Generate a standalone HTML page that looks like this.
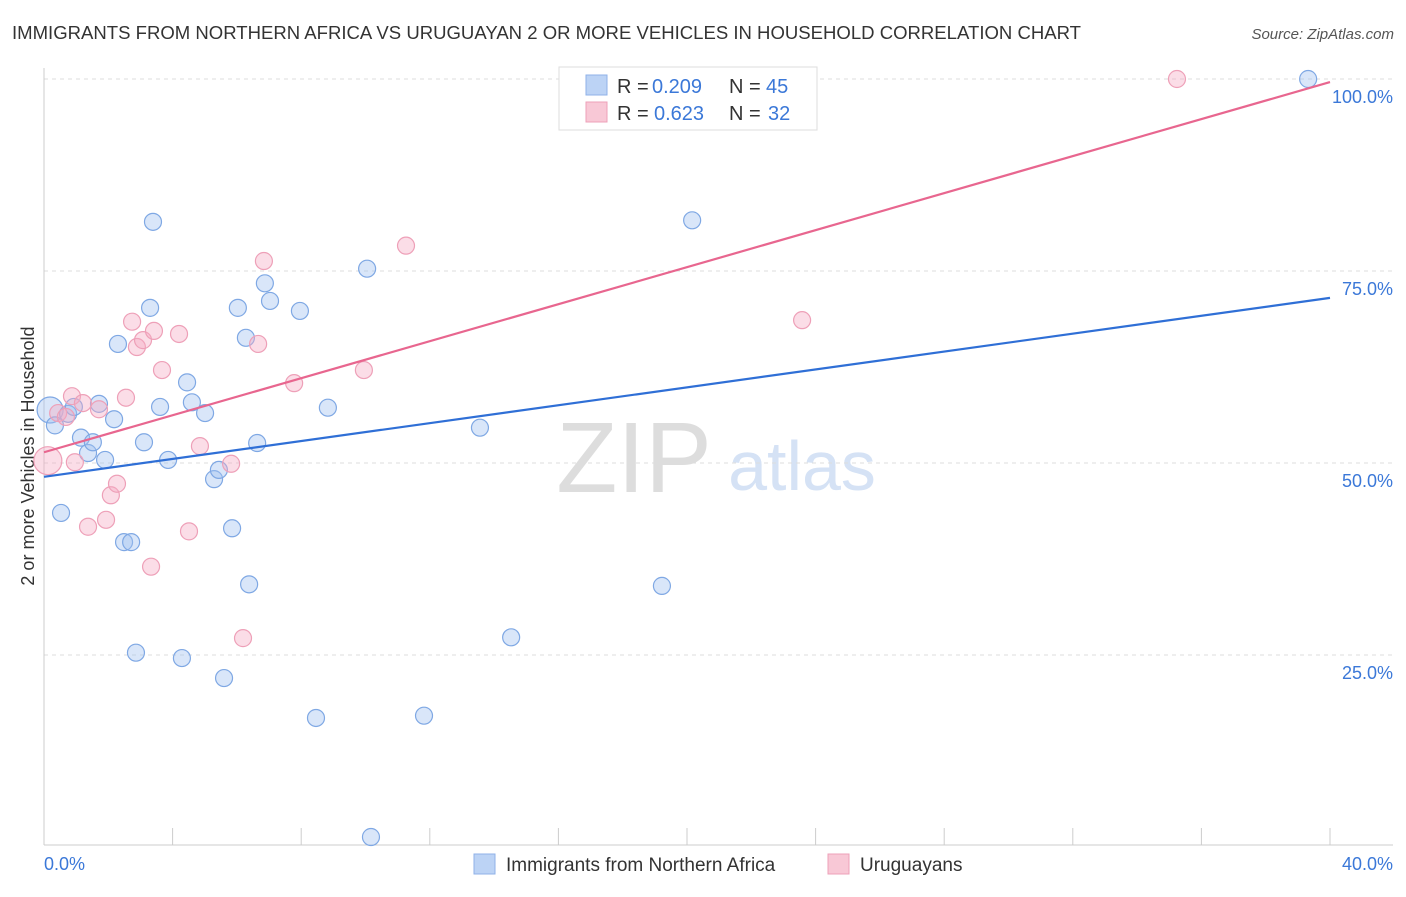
<!DOCTYPE html>
<html><head><meta charset="utf-8"><style>
body{margin:0;background:#fff;font-family:"Liberation Sans",sans-serif;}
svg text{font-family:"Liberation Sans",sans-serif;}
</style></head><body>
<svg id="chart" width="1406" height="892">
<text x="12" y="39" font-size="18" fill="#333" textLength="1069" lengthAdjust="spacingAndGlyphs">IMMIGRANTS FROM NORTHERN AFRICA VS URUGUAYAN 2 OR MORE VEHICLES IN HOUSEHOLD CORRELATION CHART</text>
<text x="1394" y="39" font-size="15" fill="#555" text-anchor="end" font-style="italic">Source: ZipAtlas.com</text>
<text x="634" y="492" font-size="100" fill="#ddd" font-family="Liberation Serif" text-anchor="middle">ZIP</text>
<text x="802" y="490" font-size="70" fill="#d5e2f5" text-anchor="middle">atlas</text>
<text transform="translate(34,456) rotate(-90)" font-size="18" fill="#333" text-anchor="middle">2 or more Vehicles in Household</text>
<g id="grid"></g><g id="marks"></g>
<g>
<rect x="559" y="67" width="258" height="63" fill="#fff" stroke="#ddd"/>
<rect x="586" y="75" width="21" height="20" fill="#bcd3f5" stroke="#8fb2e8"/>
<rect x="586" y="102" width="21" height="20" fill="#f8c8d6" stroke="#eea0b8"/>
<text x="617" y="93" font-size="20" fill="#333">R =</text>
<text x="652" y="93" font-size="20" fill="#3b78d8">0.209</text>
<text x="729" y="93" font-size="20" fill="#333">N =</text>
<text x="766" y="93" font-size="20" fill="#3b78d8">45</text>
<text x="617" y="120" font-size="20" fill="#333">R =</text>
<text x="654" y="120" font-size="20" fill="#3b78d8">0.623</text>
<text x="729" y="120" font-size="20" fill="#333">N =</text>
<text x="768" y="120" font-size="20" fill="#3b78d8">32</text>
</g>
<g>
<rect x="474" y="854" width="21" height="20" fill="#bcd3f5" stroke="#8fb2e8"/>
<text x="506" y="871" font-size="19" fill="#333">Immigrants from Northern Africa</text>
<rect x="828" y="854" width="21" height="20" fill="#f8c8d6" stroke="#eea0b8"/>
<text x="860" y="871" font-size="19" fill="#333">Uruguayans</text>
</g>
</svg>
<script>
const blueX=[0.19,0.34,0.53,0.75,0.93,1.15,1.37,1.52,1.71,1.90,2.18,2.30,2.49,2.71,2.86,3.11,3.30,3.39,3.61,3.86,4.29,4.45,4.60,5.01,5.29,5.44,5.60,5.85,6.03,6.28,6.38,6.63,6.87,7.03,7.96,8.46,8.83,10.05,10.17,11.82,13.56,14.53,19.22,20.16,39.32];
const blueY=[56.9,54.9,43.5,56.4,57.3,53.3,51.3,52.7,57.7,50.4,55.7,65.5,39.7,39.7,25.3,52.7,70.2,81.4,57.3,50.4,24.6,60.5,57.9,56.5,47.9,49.1,22.0,41.5,70.2,66.3,34.2,52.6,73.4,71.1,69.8,16.8,57.2,75.3,1.3,17.1,54.6,27.3,34.0,81.6,100];
const pinkX=[0.12,0.44,0.68,0.87,0.96,1.21,1.37,1.71,1.93,2.08,2.27,2.55,2.74,2.89,3.08,3.33,3.42,3.67,4.20,4.51,4.85,5.82,6.19,6.66,6.84,7.78,9.95,11.26,23.58,35.24];
const pinkY=[50.3,56.5,56.0,58.7,50.1,57.8,41.7,57.0,42.6,45.8,47.3,58.5,68.4,65.1,66.0,36.5,67.2,62.1,66.8,41.1,52.2,49.9,27.2,65.5,76.3,60.4,62.1,78.3,68.6,100];
const blueTrend=[48.2,71.5];
const pinkTrend=[51.4,99.6];
const yTicks=[25,50,75,100];
const xTicks=[0,4,8,12,16,20,24,28,32,36,40];
const NS='http://www.w3.org/2000/svg';
const sx=v=>44+v*32.15, sy=v=>847-v*7.68;
function mk(tag,attrs,parent){const e=document.createElementNS(NS,tag);for(const k in attrs)e.setAttribute(k,attrs[k]);parent.appendChild(e);return e;}
const grid=document.getElementById('grid'),marks=document.getElementById('marks');
yTicks.forEach(t=>{
 const l=mk('line',{x1:44,x2:1393,y1:sy(t),y2:sy(t),stroke:'#ddd','stroke-dasharray':'4,4'},grid);
 
 
 const tx=mk('text',{x:1393,y:sy(t)+24,'font-size':18,fill:'#3b78d8','text-anchor':'end'},grid);
 tx.textContent=t.toFixed(1)+'%';
 
 
});
xTicks.forEach(t=>{
 const l=mk('line',{x1:sx(t),x2:sx(t),y1:828,y2:845,stroke:'#ccc'},grid);
 
 
});
mk('line',{x1:44,x2:44,y1:68,y2:845,stroke:'#ccc'},grid);
mk('line',{x1:44,x2:1393,y1:845,y2:845,stroke:'#ccc'},grid);
[[0,44,'start'],[40,1393,'end']].forEach(([v,x,a])=>{const tx=mk('text',{x:x,y:870,'font-size':18,fill:'#3b78d8','text-anchor':a},grid);tx.textContent=v.toFixed(1)+'%';
 
 });
function pts(X,Y,fill,stroke,name){X.forEach((x,i)=>{const r=(i===0)?(name==='blue-point'?13:14):8.5;
 const c=mk('circle',{cx:sx(x),cy:sy(Y[i]),r:r,fill:fill,stroke:stroke,'stroke-width':1.2},marks);
 
 });}
pts(blueX,blueY,'rgba(160,192,240,0.4)','#7fa8e4','blue-point');
pts(pinkX,pinkY,'rgba(245,170,195,0.4)','#eea0b8','pink-point');
const bl=mk('line',{x1:sx(0),y1:sy(blueTrend[0]),x2:sx(40),y2:sy(blueTrend[1]),stroke:'#2f6fd6','stroke-width':2.2},marks);


const pl=mk('line',{x1:sx(0),y1:sy(pinkTrend[0]),x2:sx(40),y2:sy(pinkTrend[1]),stroke:'#e8668f','stroke-width':2.2},marks);


</script>
</body></html>
